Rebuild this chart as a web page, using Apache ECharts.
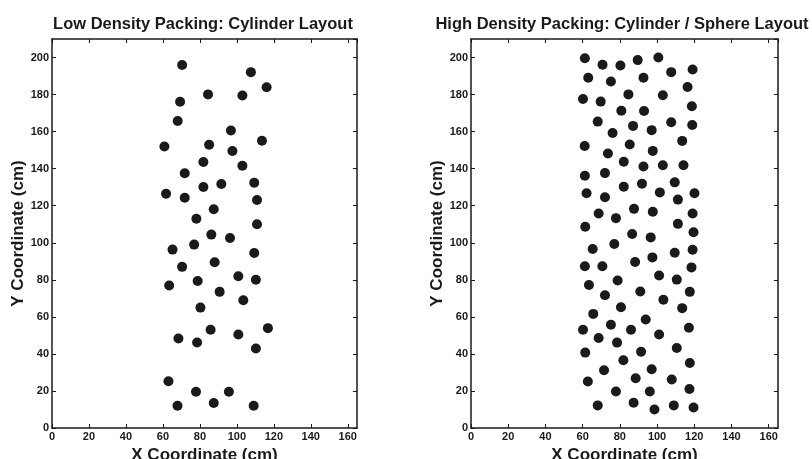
<!DOCTYPE html>
<html><head><meta charset="utf-8">
<script src="https://cdn.jsdelivr.net/npm/echarts@6/dist/echarts.min.js"></script>
<style>html,body{margin:0;padding:0;background:#fff}#c{width:812px;height:459px}</style>
</head><body><div id="c"></div>
<script>
const titles = ['Low Density Packing: Cylinder Layout', 'High Density Packing: Cylinder / Sphere Layout'];
const xName = 'X Coordinate (cm)';
const yName = 'Y Coordinate (cm)';
const lowX = [70.4,107.6,116.1,84.4,103.0,69.3,68.0,96.8,60.8,85.0,113.6,97.6,81.9,103.0,71.8,91.6,109.4,81.9,61.7,71.8,110.9,87.5,78.1,110.9,86.2,96.3,65.2,76.9,109.4,70.4,88.0,100.8,110.3,78.8,63.4,90.7,103.5,80.3,116.8,85.8,100.8,68.4,78.5,110.3,63.0,77.9,95.7,67.9,87.5,109.1];
const lowY = [196.0,192.1,184.0,180.1,179.5,176.1,165.7,160.6,152.0,152.9,155.1,149.5,143.6,141.6,137.5,131.7,132.4,130.1,126.5,124.3,123.1,118.1,113.0,110.0,104.4,102.6,96.3,99.0,94.5,87.0,89.5,81.9,80.0,79.4,76.9,73.5,69.0,65.0,53.9,53.0,50.5,48.3,46.2,42.9,25.2,19.6,19.6,12.0,13.5,12.0];
const highX = [61.2,70.7,80.3,89.6,100.7,107.6,119.1,63.0,75.2,92.7,116.4,60.2,69.7,84.6,103.1,80.8,93.0,118.7,68.1,87.1,107.6,118.9,76.1,97.1,61.1,85.3,113.5,73.6,97.7,82.1,92.7,103.1,114.2,61.2,72.0,82.1,91.9,109.5,62.1,72.0,101.5,111.2,120.1,87.6,97.7,68.6,77.9,119.1,61.4,111.2,119.6,86.6,96.6,65.4,77.0,109.5,119.1,61.2,70.6,88.2,97.5,118.5,101.1,110.6,78.8,63.4,91.0,117.6,72.0,103.4,113.5,80.6,65.7,93.9,75.2,60.2,86.0,117.1,68.6,78.5,101.1,61.4,91.4,110.6,81.9,117.6,71.5,97.1,62.8,88.5,107.9,77.9,96.1,117.4,68.1,87.4,98.6,109.0,119.6];
const highY = [199.6,196.1,195.7,198.6,200.0,192.1,193.5,189.1,187.1,189.1,184.1,177.6,176.2,180.1,179.6,171.3,171.1,173.7,165.4,163.1,165.1,163.6,159.3,160.8,152.2,153.0,155.0,148.2,149.6,143.7,141.2,141.8,141.8,136.2,137.6,130.3,131.9,132.6,126.7,124.6,127.2,123.3,126.7,118.3,116.7,115.8,113.3,115.8,108.6,110.2,105.7,104.7,102.9,96.6,99.3,94.6,96.2,87.3,87.3,89.6,92.1,86.7,82.3,80.1,79.6,77.2,73.7,73.5,71.7,69.2,64.7,65.2,61.6,58.6,55.7,53.0,53.0,54.1,48.6,46.1,50.5,40.7,41.2,43.2,36.6,35.1,31.2,31.7,25.1,26.9,26.2,19.7,19.7,21.1,12.2,13.6,10.0,12.2,11.1];

const FONT = '"Liberation Sans", Arial, sans-serif';
const AXC = '#1a1a1a';
const grids = [
  {left: 52, top: 39, width: 305, height: 389, outerBoundsMode: 'none', containLabel: false},
  {left: 471, top: 39, width: 307, height: 389, outerBoundsMode: 'none', containLabel: false}
];
function lbl(v){ return (v % 20 === 0) ? String(v) : ''; }
const xAxes = [], yAxes = [];
grids.forEach((g, i) => {
  const base = {
    type: 'value', gridIndex: i, interval: 20, splitLine: {show: false},
    axisLine: {show: true, onZero: false, lineStyle: {color: AXC, width: 1.5}},
    axisTick: {show: true, inside: true, length: 4, lineStyle: {color: AXC, width: 1}}
  };
  xAxes.push(Object.assign({}, base, {
    position: 'bottom', min: 0, max: 165,
    name: xName, nameLocation: 'middle', nameGap: 15,
    nameTextStyle: {fontFamily: FONT, fontWeight: 'bold', fontSize: 17, color: '#1a1a1a'},
    axisLabel: {formatter: lbl, margin: 3, fontFamily: FONT, fontWeight: 'bold', fontSize: 11, color: '#1a1a1a', showMaxLabel: false}
  }));
  xAxes.push(Object.assign({}, base, {
    position: 'top', min: 0, max: 165, axisLabel: {show: false}
  }));
  yAxes.push(Object.assign({}, base, {
    position: 'left', min: 0, max: 210,
    name: yName, nameLocation: 'middle', nameGap: 24,
    nameTextStyle: {fontFamily: FONT, fontWeight: 'bold', fontSize: 17, color: '#1a1a1a'},
    axisLabel: {formatter: lbl, margin: 3, fontFamily: FONT, fontWeight: 'bold', fontSize: 11, color: '#1a1a1a', showMaxLabel: false}
  }));
  yAxes.push(Object.assign({}, base, {
    position: 'right', min: 0, max: 210, axisLabel: {show: false}
  }));
});

const zip = (xs, ys) => xs.map((x, k) => [x, ys[k]]);
const option = {
  animation: false,
  backgroundColor: '#fff',
  title: [
    {text: titles[0], left: 198, top: 11, textAlign: 'center',
     textStyle: {fontFamily: FONT, fontWeight: 'bold', fontSize: 16.5, color: '#1a1a1a'}},
    {text: titles[1], left: 617, top: 11, textAlign: 'center',
     textStyle: {fontFamily: FONT, fontWeight: 'bold', fontSize: 16.5, color: '#1a1a1a'}}
  ],
  grid: grids,
  xAxis: xAxes,
  yAxis: yAxes,
  series: [
    {type: 'scatter', xAxisIndex: 0, yAxisIndex: 0, symbolSize: 10,
     itemStyle: {color: '#1a1a1a', opacity: 1}, data: zip(lowX, lowY)},
    {type: 'scatter', xAxisIndex: 2, yAxisIndex: 2, symbolSize: 10,
     itemStyle: {color: '#1a1a1a', opacity: 1}, data: zip(highX, highY)}
  ]
};
echarts.init(document.getElementById('c'), null, {renderer: 'canvas'}).setOption(option);
</script>
</body></html>
